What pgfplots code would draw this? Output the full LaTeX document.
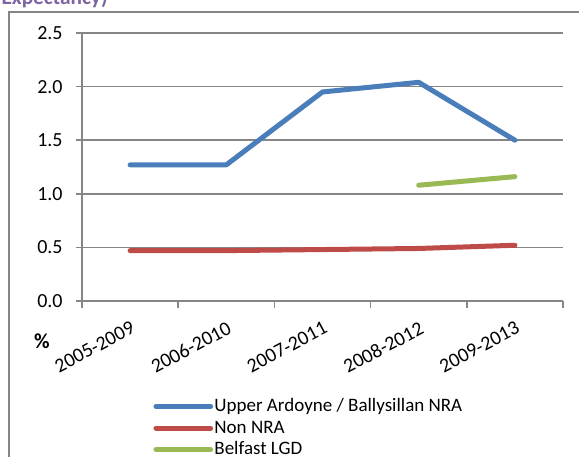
\documentclass[border=0pt]{standalone}
\usepackage{pgfplots}
\pgfplotsset{compat=1.18}
\usepackage{fontspec}
\setmainfont{Carlito}

\definecolor{seriesblue}{HTML}{4A7EBB}
\definecolor{seriesred}{HTML}{BE4B48}
\definecolor{seriesgreen}{HTML}{98B954}
\definecolor{gridgray}{HTML}{868686}
\definecolor{titlepurple}{HTML}{8064A2}

\begin{document}
\begin{tikzpicture}
% page = 579 x 457 px, 1 px = 0.75pt
\useasboundingbox (0pt,0pt) rectangle (434.25pt,-342.75pt);
\clip (0pt,0pt) rectangle (434.25pt,-342.75pt);

% cut-off title above the chart
\node[anchor=base east, inner sep=0pt, text=titlepurple, font=\fontsize{16}{18}\selectfont\bfseries]
  at (81pt,-3.5pt) {Expectancy)};

% chart frame
\draw[gridgray, line width=1.1pt] (6.75pt,-9pt) rectangle (460pt,-370pt);

\begin{axis}[
    at={(61.5pt,-225.75pt)}, anchor=south west,
    scale only axis,
    width=360.75pt, height=201pt,
    xmin=-0.5, xmax=4.5,
    ymin=0, ymax=2.5,
    ytick={0,0.5,1.0,1.5,2.0,2.5},
    yticklabel style={/pgf/number format/fixed, /pgf/number format/fixed zerofill,
        /pgf/number format/precision=1, /pgf/number format/assume math mode=true,
        xshift=-6.5pt},
    xtick={0,1,2,3,4},
    xticklabels={2005-2009,2006-2010,2007-2011,2008-2012,2009-2013},
    minor xtick={-0.5,0.5,1.5,2.5,3.5,4.5},
    xticklabel style={anchor=north east, rotate=28, inner sep=0pt},
    xticklabel shift=10pt,
    major x tick style={draw=none},
    tick align=outside,
    major tick length=4.5pt,
    minor tick length=5pt,
    tick style={gridgray, line width=1.1pt},
    axis x line*=bottom, axis y line*=left,
    axis line style={gridgray, line width=1.1pt, -},
    ymajorgrids=true,
    grid style={gridgray, line width=1.1pt},
    ticklabel style={font=\fontsize{15}{17}\selectfont},
    legend style={draw=none, fill=none, at={(0.148,-0.352)}, anchor=north west,
        font=\fontsize{14.25}{16}\selectfont, row sep=0pt, inner sep=0pt,
        nodes={inner sep=1pt, text height=11pt, text depth=3.2pt}},
    legend cell align=left,
    legend image code/.code={\draw[#1] (0pt,0pt) -- (41pt,0pt);},
    every axis plot/.append style={line width=3.75pt, line cap=round, line join=round},
]
\addplot[seriesblue] coordinates {(0,1.27) (1,1.27) (2,1.95) (3,2.04) (4,1.50)};
\addlegendentry{Upper Ardoyne / Ballysillan NRA}
\addplot[seriesred] coordinates {(0,0.47) (1,0.47) (2,0.48) (3,0.49) (4,0.52)};
\addlegendentry{Non NRA}
\addplot[seriesgreen] coordinates {(3,1.08) (4,1.16)};
\addlegendentry{Belfast LGD}
\end{axis}

\node[anchor=center, font=\fontsize{16}{18}\selectfont\bfseries] at (31.5pt,-256pt) {\%};
\end{tikzpicture}
\end{document}
